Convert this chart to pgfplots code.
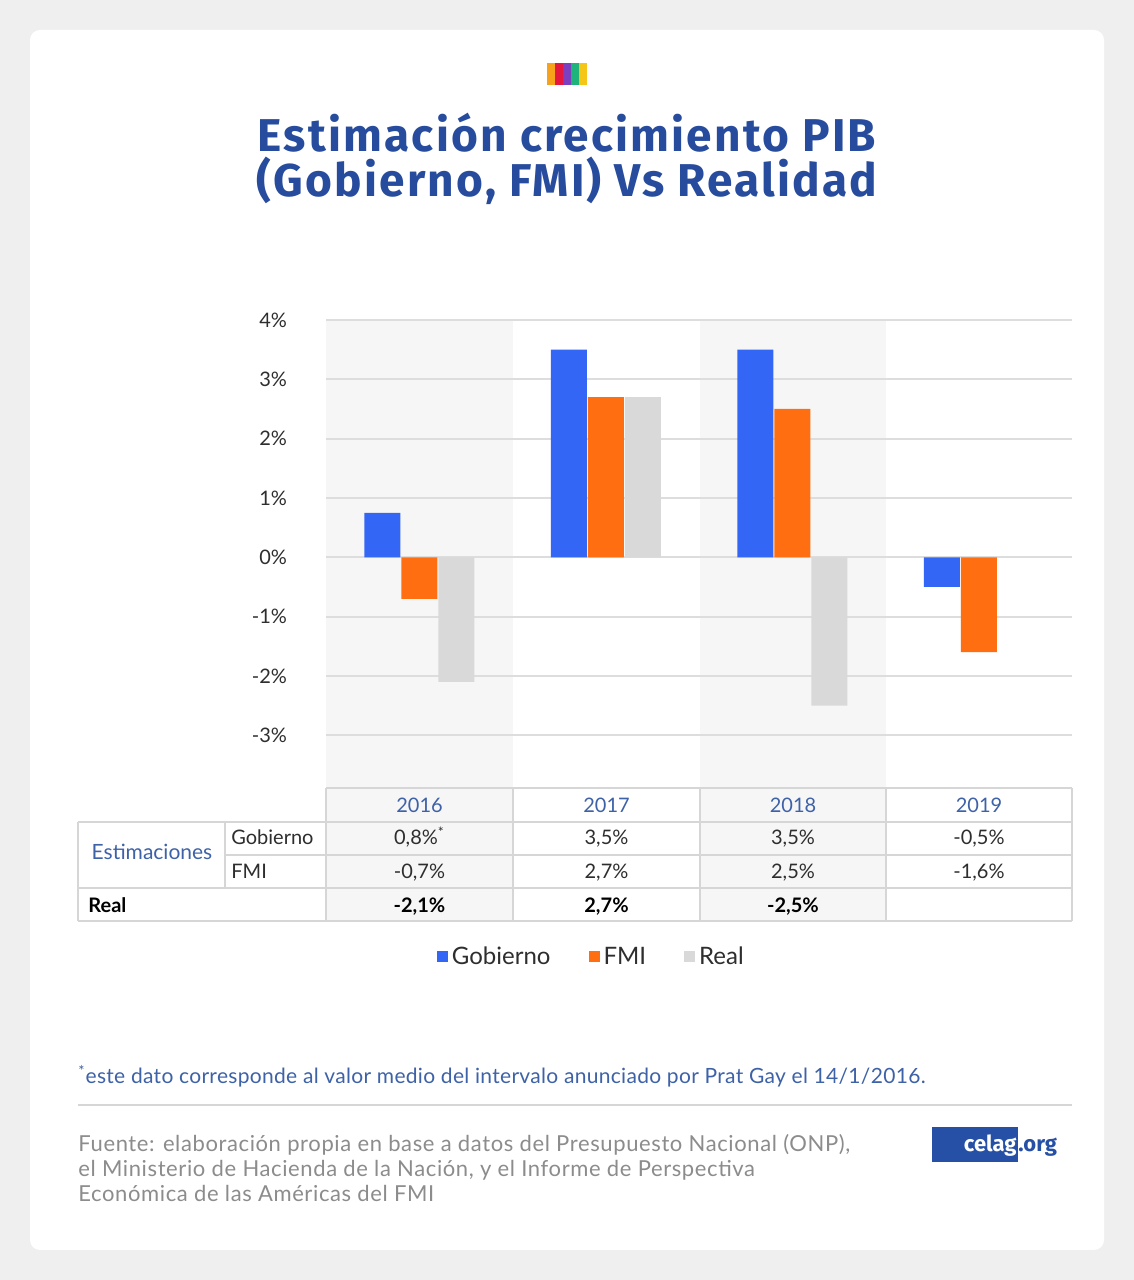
\documentclass[border=0pt]{standalone}
\usepackage{fontspec}
\setmainfont{Lato}
\newfontfamily\titlefont{Fira Sans}
\usepackage{pgfplots}
\pgfplotsset{compat=1.18}

\definecolor{bgout}{HTML}{EFEFEF}
\definecolor{titleblue}{HTML}{274C9E}
\definecolor{yearblue}{HTML}{3E62A8}
\definecolor{gob}{HTML}{3366F5}
\definecolor{fmi}{HTML}{FF6F11}
\definecolor{real}{HTML}{D9D9D9}
\definecolor{band}{HTML}{F6F6F6}
\definecolor{gridc}{HTML}{DDDDDD}
\definecolor{tline}{HTML}{D6D6D6}
\definecolor{txt}{HTML}{2E2E2E}
\definecolor{srcgray}{HTML}{8C8C8C}
\definecolor{celagblue}{HTML}{2550A6}
\definecolor{lg1}{HTML}{F7A21B}
\definecolor{lg2}{HTML}{E5173F}
\definecolor{lg3}{HTML}{7B3FBF}
\definecolor{lg4}{HTML}{1DB37A}
\definecolor{lg5}{HTML}{F5C518}

\begin{document}
\begin{tikzpicture}[x=0.5pt,y=0.5pt,
  tl/.style={draw=tline, line width=1pt},
  cell/.style={anchor=base, text=txt, font=\fontsize{10}{12}\selectfont, inner sep=0pt},
  ttl/.style={anchor=base, text=titleblue, inner sep=0pt,
    font=\titlefont\bfseries\fontsize{23}{27}\selectfont\addfontfeature{LetterSpace=4.8}},
  src/.style={anchor=base west, inner sep=0pt, text=srcgray,
    font=\fontsize{11}{13}\selectfont\addfontfeature{LetterSpace=2.8}}]
% background and card
\fill[bgout] (0,0) rectangle (1134,1280);
\fill[white, rounded corners=5pt] (30,30) rectangle (1104,1250);
% small logo
\fill[lg1] (547,1195) rectangle (555,1217);
\fill[lg2] (555,1195) rectangle (563,1217);
\fill[lg3] (563,1195) rectangle (571,1217);
\fill[lg4] (571,1195) rectangle (579,1217);
\fill[lg5] (579,1195) rectangle (587,1217);
% title
\node[ttl] at (567,1128) {Estimación crecimiento PIB};
\node[ttl] at (567,1083) {(Gobierno, FMI) Vs Realidad};
% shaded columns
\fill[band] (326,359) rectangle (513,960);
\fill[band] (700,359) rectangle (886,960);

\begin{axis}[
  at={(163pt,246pt)}, anchor=south west,
  scale only axis, width=373pt, height=234pt,
  xmin=-0.5, xmax=3.5, ymin=-3.89, ymax=4,
  enlargelimits=false,
  axis line style={draw=none},
  major tick length=0pt,
  xtick=\empty,
  ytick={-3,-2,-1,0,1,2,3,4},
  yticklabels={-3\%,-2\%,-1\%,0\%,1\%,2\%,3\%,4\%},
  yticklabel style={font=\fontsize{10}{12}\selectfont, text=txt, anchor=east, xshift=-16pt},
  ymajorgrids,
  grid style={draw=gridc, line width=1pt},
  ybar=0.5pt, bar width=18pt,
  legend columns=3,
  legend style={draw=none, fill=none, at={(axis description cs:0.357,-0.361)}, anchor=center,
    font=\fontsize{12}{14}\selectfont, text=txt,
    /tikz/every even column/.append style={column sep=17pt}},
]
\addplot[fill=gob, draw=none,
  legend image code/.code={\fill[gob] (0pt,-2.75pt) rectangle (5.5pt,2.75pt);}]
  coordinates {(0,0.75) (1,3.5) (2,3.5) (3,-0.5)};
\addplot[fill=fmi, draw=none,
  legend image code/.code={\fill[fmi] (0pt,-2.75pt) rectangle (5.5pt,2.75pt);}]
  coordinates {(0,-0.7) (1,2.7) (2,2.5) (3,-1.6)};
\addplot[fill=real, draw=none,
  legend image code/.code={\fill[real] (0pt,-2.75pt) rectangle (5.5pt,2.75pt);}]
  coordinates {(0,-2.1) (1,2.7) (2,-2.5)};
\legend{Gobierno, FMI, Real}
\end{axis}

% table
\draw[tl] (326,492) -- (1072,492);
\draw[tl] (78,458) -- (1072,458);
\draw[tl] (225,425) -- (1072,425);
\draw[tl] (78,392) -- (1072,392);
\draw[tl] (78,359) -- (1072,359);
\foreach \x in {326,513,700,886,1072} \draw[tl] (\x,492) -- (\x,359);
\draw[tl] (78,458) -- (78,359);
\draw[tl] (225,458) -- (225,392);

\node[cell, text=yearblue] at (419.5,467) {2016};
\node[cell, text=yearblue] at (606.5,467) {2017};
\node[cell, text=yearblue] at (793,467) {2018};
\node[cell, text=yearblue] at (979,467) {2019};

\node[cell, anchor=base, text=yearblue, font=\fontsize{10.5}{12}\selectfont] at (152,420) {Estimaciones};
\node[cell, anchor=base west] at (231,435) {Gobierno};
\node[cell, anchor=base west] at (231,401) {FMI};
\node[cell, anchor=base west, font=\bfseries\fontsize{10}{12}\selectfont, text=black] at (88,367) {Real};

\node[cell] at (419.5,435) {0,8\%\textsuperscript{*}};
\node[cell] at (606.5,435) {3,5\%};
\node[cell] at (793,435) {3,5\%};
\node[cell] at (979,435) {-0,5\%};
\node[cell] at (419.5,401) {-0,7\%};
\node[cell] at (606.5,401) {2,7\%};
\node[cell] at (793,401) {2,5\%};
\node[cell] at (979,401) {-1,6\%};
\node[cell, font=\bfseries\fontsize{10}{12}\selectfont, text=black] at (419.5,367) {-2,1\%};
\node[cell, font=\bfseries\fontsize{10}{12}\selectfont, text=black] at (606.5,367) {2,7\%};
\node[cell, font=\bfseries\fontsize{10}{12}\selectfont, text=black] at (793,367) {-2,5\%};

% footnote
\node[anchor=base west, inner sep=0pt, text=yearblue,
  font=\fontsize{10.5}{12}\selectfont\addfontfeature{LetterSpace=1.5}]
  at (78,196) {\textsuperscript{*}este dato corresponde al valor medio del intervalo anunciado por Prat Gay el 14/1/2016.};
\draw[tline, line width=1pt] (78,175) -- (1072,175);

% source
\node[src] at (78,128) {Fuente: elaboración propia en base a datos del Presupuesto Nacional (ONP),};
\node[src] at (78,103) {el Ministerio de Hacienda de la Nación, y el Informe de Perspectiva};
\node[src] at (78,78) {Económica de las Américas del FMI};

% celag.org
\fill[celagblue] (932,118) rectangle (1018,153);
\node[anchor=base east, inner sep=0pt, text=white, font=\titlefont\bfseries\fontsize{11}{13}\selectfont]
  at (1017,128) {celag};
\node[anchor=base west, inner sep=0pt, text=celagblue, font=\titlefont\bfseries\fontsize{11}{13}\selectfont]
  at (1018,128) {.org};
\end{tikzpicture}
\end{document}
